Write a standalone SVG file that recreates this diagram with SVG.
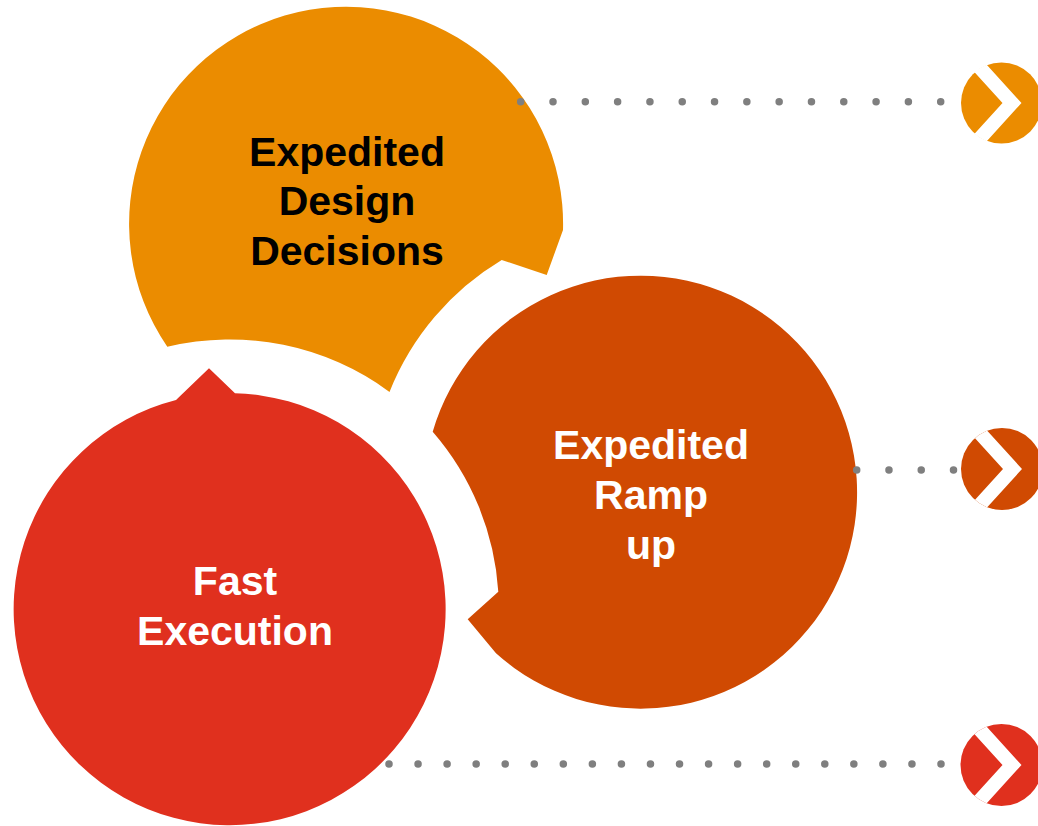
<svg xmlns="http://www.w3.org/2000/svg" width="1038" height="826" viewBox="0 0 1038 826">
<style>
.lbl{font-family:"Liberation Sans",Arial,sans-serif;font-weight:bold;font-size:41px;text-anchor:middle}
.dots{fill:none;stroke:#7F7F7F;stroke-width:7.5;stroke-linecap:round}
.chev{fill:#FFFFFF}
</style>
<defs>
<clipPath id="iconClip"><circle cx="0" cy="0" r="41"/></clipPath>
<polygon id="chevron" points="-30,-55 20,0 -30,55 -49,55 1,0 -49,-55"/>
</defs>
<rect x="0" y="0" width="1038" height="826" fill="#FFFFFF"/>
<g id="node-design">
<path fill="#EB8C00" d="M563,230 A217,217 0 1 0 167.3,346.7 A270,270 0 0 1 389.5,391.9 A270,270 0 0 1 501.7,260 L546.7,275 Z"/>
<text class="lbl" fill="#000000" x="347" y="165.5">Expedited</text>
<text class="lbl" fill="#000000" x="347" y="215">Design</text>
<text class="lbl" fill="#000000" x="347" y="264.5">Decisions</text>
</g>
<g id="node-ramp">
<path fill="#D04A02" d="M432.7,431.7 A216.5,216.5 0 1 1 496,653.3 L467.7,619.3 L498.3,591.7 A270,270 0 0 0 432.7,431.7 Z"/>
<text class="lbl" fill="#FFFFFF" x="651" y="459.3">Expedited</text>
<text class="lbl" fill="#FFFFFF" x="651" y="509.3">Ramp</text>
<text class="lbl" fill="#FFFFFF" x="651" y="559.3">up</text>
</g>
<g id="node-execution">
<path fill="#E0301E" d="M235,393.3 A216,216 0 1 1 176,400 L209,368.3 Z"/>
<text class="lbl" fill="#FFFFFF" x="235" y="595">Fast</text>
<text class="lbl" fill="#FFFFFF" x="235" y="645">Execution</text>
</g>
<g id="icon-1" transform="translate(1001.5,103)">
<circle cx="0" cy="0" r="40.5" fill="#EB8C00"/>
<use href="#chevron" class="chev" clip-path="url(#iconClip)"/>
</g>
<g id="icon-2" transform="translate(1002,469)">
<circle cx="0" cy="0" r="41" fill="#D04A02"/>
<use href="#chevron" class="chev" clip-path="url(#iconClip)"/>
</g>
<g id="icon-3" transform="translate(1001.5,765)">
<circle cx="0" cy="0" r="41" fill="#E0301E"/>
<use href="#chevron" class="chev" clip-path="url(#iconClip)"/>
</g>
<g id="connectors">
<line class="dots" x1="520.7" y1="101.7" x2="942" y2="101.7" stroke-dasharray="0 32.3077"/>
<line class="dots" x1="856.7" y1="470" x2="955" y2="470" stroke-dasharray="0 32.2667"/>
<line class="dots" x1="389" y1="764" x2="943" y2="764" stroke-dasharray="0 29.0526"/>
</g>
</svg>
